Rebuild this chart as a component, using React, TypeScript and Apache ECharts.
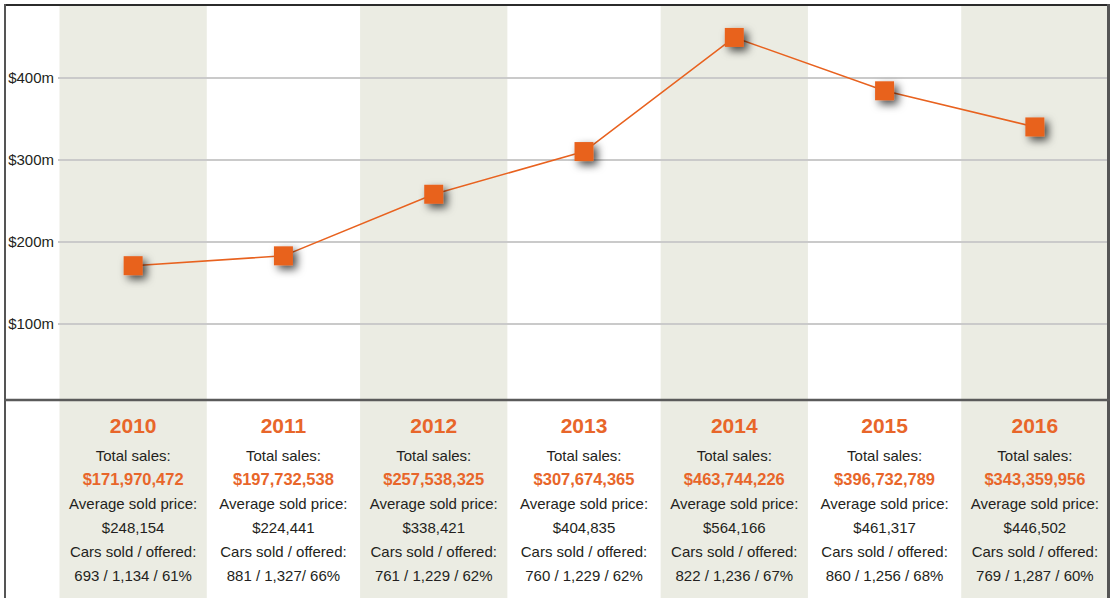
import React, { useEffect, useRef } from "react";
import * as echarts from "echarts";

const years = ["2010", "2011", "2012", "2013", "2014", "2015", "2016"];
const plottedSales = [171, 183, 258, 310, 449, 384, 340]; // $m
const totalSalesText = ["$171,970,472", "$197,732,538", "$257,538,325", "$307,674,365", "$463,744,226", "$396,732,789", "$343,359,956"];
const avgPriceText = ["$248,154", "$224,441", "$338,421", "$404,835", "$564,166", "$461,317", "$446,502"];
const soldOfferedText = ["693 / 1,134 / 61%", "881 / 1,327/ 66%", "761 / 1,229 / 62%", "760 / 1,229 / 62%", "822 / 1,236 / 67%", "860 / 1,256 / 68%", "769 / 1,287 / 60%"];
const bandFlags = [1, 0, 1, 0, 1, 0, 1];
const yTickValues = [100, 200, 300, 400];

const FONT = '"Liberation Sans", Arial, sans-serif';
const ORANGE = "#E8621F";
const ORANGE_TEXT = "#E8662A";
const DARK = "#231F20";
const BAND = "#EBECE3";

export default function App() {
  const ref = useRef<HTMLDivElement>(null);
  useEffect(() => {
    if (!ref.current) return;
    const chart = echarts.init(ref.current, null, { renderer: "svg" });
    chart.setOption({
      animation: false,
      backgroundColor: "#ffffff",
      textStyle: { fontFamily: FONT },
      grid: [
        { left: 58, right: 4, top: 5, bottom: 198 },
        { left: 58, right: 4, top: 5, bottom: 0 },
      ],
      xAxis: [
        {
          type: "category",
          gridIndex: 0,
          data: years,
          boundaryGap: true,
          z: 6,
          axisLine: { show: false },
          axisTick: { show: false },
          axisLabel: {
            interval: 0,
            margin: 7,
            fontFamily: FONT,
            formatter: (_v: string, i: number) =>
              `{year|${years[i]}}\n{lbl|Total sales:}\n{tot|${totalSalesText[i]}}\n{lbl|Average sold price:}\n{lbl|${avgPriceText[i]}}\n{lbl|Cars sold / offered:}\n{lbl|${soldOfferedText[i]}}`,
            rich: {
              year: { fontFamily: FONT, fontSize: 21, fontWeight: "bold", color: ORANGE_TEXT, lineHeight: 36 },
              lbl: { fontFamily: FONT, fontSize: 15, color: DARK, lineHeight: 24 },
              tot: { fontFamily: FONT, fontSize: 16.5, fontWeight: "bold", color: ORANGE_TEXT, lineHeight: 24 },
            },
          },
        },
        {
          type: "category",
          gridIndex: 1,
          data: years,
          show: false,
          boundaryGap: true,
        },
      ],
      yAxis: [
        {
          type: "value",
          gridIndex: 0,
          min: 7.4,
          max: 488.5,
          z: 2,
          axisLine: { show: false },
          axisTick: { show: false },
          splitLine: { show: true, lineStyle: { color: "#CACACA", width: 2 } },
          axisLabel: {
            margin: 4,
            fontFamily: FONT,
            fontSize: 15,
            color: DARK,
            formatter: (v: number) => (yTickValues.indexOf(Math.round(v)) >= 0 && Math.abs(v - Math.round(v)) < 1e-6 ? `$${v}m` : ""),
          },
        },
        { type: "value", gridIndex: 1, min: 0, max: 1, show: false },
      ],
      series: [
        {
          type: "bar",
          xAxisIndex: 1,
          yAxisIndex: 1,
          data: bandFlags,
          barWidth: "98%",
          silent: true,
          z: 1,
          itemStyle: { color: BAND },
        },
        {
          type: "line",
          xAxisIndex: 0,
          yAxisIndex: 0,
          data: plottedSales,
          z: 5,
          symbol: "rect",
          symbolSize: 19,
          lineStyle: { color: ORANGE, width: 1.5 },
          itemStyle: {
            color: ORANGE,
            shadowColor: "rgba(0,0,0,0.7)",
            shadowBlur: 8,
            shadowOffsetX: 4,
            shadowOffsetY: 4,
          },
        },
      ],
      graphic: [
        { type: "line", z: 100, shape: { x1: 4, y1: 5, x2: 1110, y2: 5 }, style: { stroke: "#2B2B2B", lineWidth: 2 } },
        { type: "line", z: 100, shape: { x1: 5, y1: 4, x2: 5, y2: 598 }, style: { stroke: "#555555", lineWidth: 2 } },
        { type: "line", z: 100, shape: { x1: 1108.5, y1: 4, x2: 1108.5, y2: 598 }, style: { stroke: "#555555", lineWidth: 3 } },
        { type: "line", z: 100, shape: { x1: 4, y1: 400, x2: 1110, y2: 400 }, style: { stroke: "#5A5A5A", lineWidth: 2.5 } },
      ],
    });
    return () => chart.dispose();
  }, []);
  return <div ref={ref} style={{ position: "absolute", left: 0, top: 0, width: 1114, height: 598 }} />;
}
